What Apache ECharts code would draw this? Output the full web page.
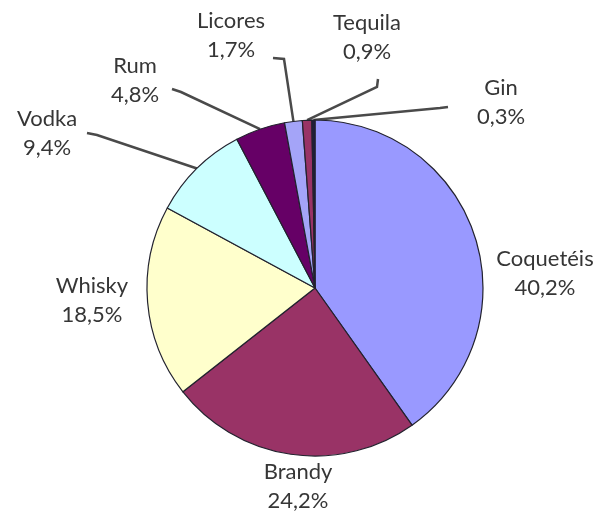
<!DOCTYPE html>
<html>
<head>
<meta charset="utf-8">
<script src="https://cdn.jsdelivr.net/npm/echarts@6/dist/echarts.min.js"></script>
<style>
  html, body { margin: 0; padding: 0; background: #fff; }
  #chart { width: 604px; height: 514px; }
</style>
</head>
<body>
<div id="chart"></div>
<script>
// Share of spirits consumption (%), clockwise from 12 o'clock
const categories = ['Coquetéis', 'Brandy', 'Whisky', 'Vodka', 'Rum', 'Licores', 'Tequila', 'Gin'];
const shares = [40.2, 24.2, 18.5, 9.4, 4.8, 1.7, 0.9, 0.3];
const valueLabels = ['40,2%', '24,2%', '18,5%', '9,4%', '4,8%', '1,7%', '0,9%', '0,3%'];

// Slice fills
const sliceColors = ['#9999FF', '#993366', '#FFFFCC', '#CCFFFF', '#660066', '#A4A4F8', '#993366', '#1E1E3C'];

// Label placement (text block centre) and the leader-line bend points near each label
const labelCenters = [[545, 273], [298, 486], [92, 300], [47, 133], [135, 80], [231, 35], [367, 37], [501, 102]];
const leaderBends = [null, null, null, [[97, 135], [87, 133]], [[181, 92], [172, 89]], [[284, 59], [273, 58]], [[377, 87], [378, 79]], [[440, 108], [448, 107]]];

const chart = echarts.init(document.getElementById('chart'), null, { renderer: 'canvas' });

const data = categories.map((name, i) => ({
  name,
  value: shares[i],
  itemStyle: { color: sliceColors[i] },
  labelLine: { show: leaderBends[i] !== null }
}));

chart.setOption({
  animation: false,
  backgroundColor: '#ffffff',
  series: [{
    type: 'pie',
    center: [315, 288],
    radius: 168,
    startAngle: 90,
    clockwise: true,
    avoidLabelOverlap: false,
    data,
    itemStyle: { borderColor: '#22222e', borderWidth: 1.2 },
    label: {
      show: true,
      position: 'outside',
      formatter: (p) => p.name + '\n' + valueLabels[p.dataIndex],
      fontFamily: 'Lato',
      fontSize: 22,
      lineHeight: 29,
      color: '#363636',
      align: 'center'
    },
    labelLine: {
      show: true,
      length: 10,
      length2: 10,
      lineStyle: { color: '#4a4a4a', width: 2.5 }
    },
    labelLayout: (params) => {
      const i = params.dataIndex;
      const c = labelCenters[i];
      const out = { x: c[0], y: c[1], align: 'center', verticalAlign: 'middle' };
      if (leaderBends[i] && params.labelLinePoints) {
        out.labelLinePoints = [params.labelLinePoints[0], leaderBends[i][0], leaderBends[i][1]];
      }
      return out;
    }
  }]
});
</script>
</body>
</html>
